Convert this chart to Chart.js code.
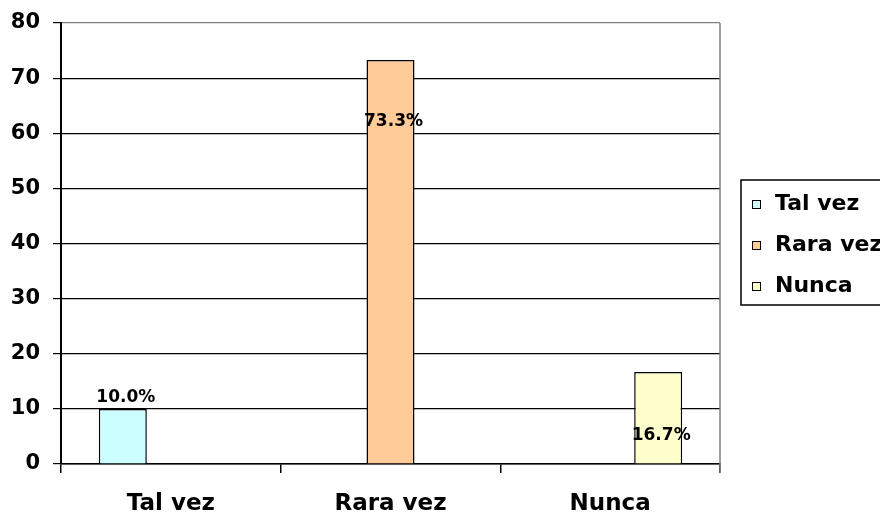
<!DOCTYPE html>
<html>
<head>
<meta charset="utf-8">
<script src="https://cdn.jsdelivr.net/npm/chart.js@4/dist/chart.umd.min.js"></script>
<style>
  html, body { margin: 0; padding: 0; background: #fff; }
  #wrap { width: 880px; height: 515px; }
</style>
</head>
<body>
<div id="wrap"><canvas id="chart" width="880" height="515"></canvas></div>
<script>
// Data
const categories = ['Tal vez', 'Rara vez', 'Nunca'];
const values = [10.0, 73.3, 16.7];
const barColors = ['#CCFFFF', '#FFCC99', '#FFFFCC'];
const yTicks = [0, 10, 20, 30, 40, 50, 60, 70, 80];

const FONT = '"DejaVu Sans", "Liberation Sans", Arial, sans-serif';

// one dataset per category so the bars sit at their slot in the group
const datasets = categories.map((name, i) => ({
    label: name,
    data: categories.map((c, j) => (j === i ? values[i] : null)),
    backgroundColor: barColors[i],
    borderColor: '#000',
    borderWidth: 1.5,
    barPercentage: 1,
    categoryPercentage: 0.656
}));

// percentage labels, the first one above its bar, the others inside
const labelOffsets = [-11, 62, 64];
const barLabels = {
    id: 'barLabels',
    afterDatasetsDraw(chart) {
        const ctx = chart.ctx;
        ctx.save();
        ctx.font = 'bold 17px ' + FONT;
        ctx.fillStyle = '#000';
        ctx.textAlign = 'center';
        ctx.textBaseline = 'middle';
        chart.data.datasets.forEach((ds, i) => {
            const bar = chart.getDatasetMeta(i).data[i];
            if (!bar) return;
            ctx.fillText(values[i].toFixed(1) + '%', bar.x + 3, bar.y + labelOffsets[i]);
        });
        ctx.restore();
    }
};

// gray right frame and the legend box on the right
const frameAndLegend = {
    id: 'frameAndLegend',
    afterDraw(chart) {
        const ctx = chart.ctx;
        const a = chart.chartArea;
        ctx.save();
        ctx.strokeStyle = '#808080';
        ctx.lineWidth = 1.5;
        ctx.beginPath();
        ctx.moveTo(a.right, a.top);
        ctx.lineTo(a.right, a.bottom + 9);
        ctx.stroke();

        // legend
        ctx.strokeStyle = '#000';
        ctx.lineWidth = 1.5;
        ctx.strokeRect(741, 180, 160, 125);
        ctx.font = 'bold 22px ' + FONT;
        ctx.textBaseline = 'middle';
        ctx.textAlign = 'left';
        categories.forEach((name, i) => {
            const cy = 204 + i * 41;
            ctx.fillStyle = barColors[i];
            ctx.fillRect(752, cy - 4, 9, 9);
            ctx.lineWidth = 1;
            ctx.strokeRect(752.5, cy - 3.5, 8, 8);
            ctx.fillStyle = '#000';
            ctx.fillText(name, 775, cy);
        });
        ctx.restore();
    }
};

new Chart(document.getElementById('chart'), {
    type: 'bar',
    data: { labels: categories, datasets: datasets },
    options: {
        responsive: false,
        animation: false,
        layout: { padding: { top: 23, right: 160, left: 0, bottom: 0 } },
        plugins: {
            legend: { display: false },
            tooltip: { enabled: false }
        },
        scales: {
            x: {
                grid: {
                    offset: true,
                    drawOnChartArea: false,
                    drawTicks: true,
                    tickLength: 9,
                    color: '#000',
                    lineWidth: 1.5
                },
                border: { color: '#000', width: 1.5 },
                ticks: {
                    color: '#000',
                    padding: 17,
                    font: { family: FONT, size: 23, weight: 'bold' }
                },
                afterFit(scale) { scale.height = 51; }
            },
            y: {
                min: 0,
                max: 80,
                afterBuildTicks(scale) { scale.ticks = yTicks.map(v => ({ value: v })); },
                grid: {
                    color: ctx => (ctx.tick && ctx.tick.value === 80 ? '#808080' : '#000'),
                    tickColor: '#000',
                    lineWidth: 1.2,
                    tickLength: 8
                },
                border: { color: '#000', width: 2 },
                ticks: {
                    color: '#000',
                    padding: 13,
                    font: { family: FONT, size: 21, weight: 'bold' }
                },
                afterFit(scale) {
                    scale.width = 61;
                    scale.paddingTop = 0;
                    scale.paddingBottom = 0;
                }
            }
        }
    },
    plugins: [barLabels, frameAndLegend]
});
</script>
</body>
</html>
